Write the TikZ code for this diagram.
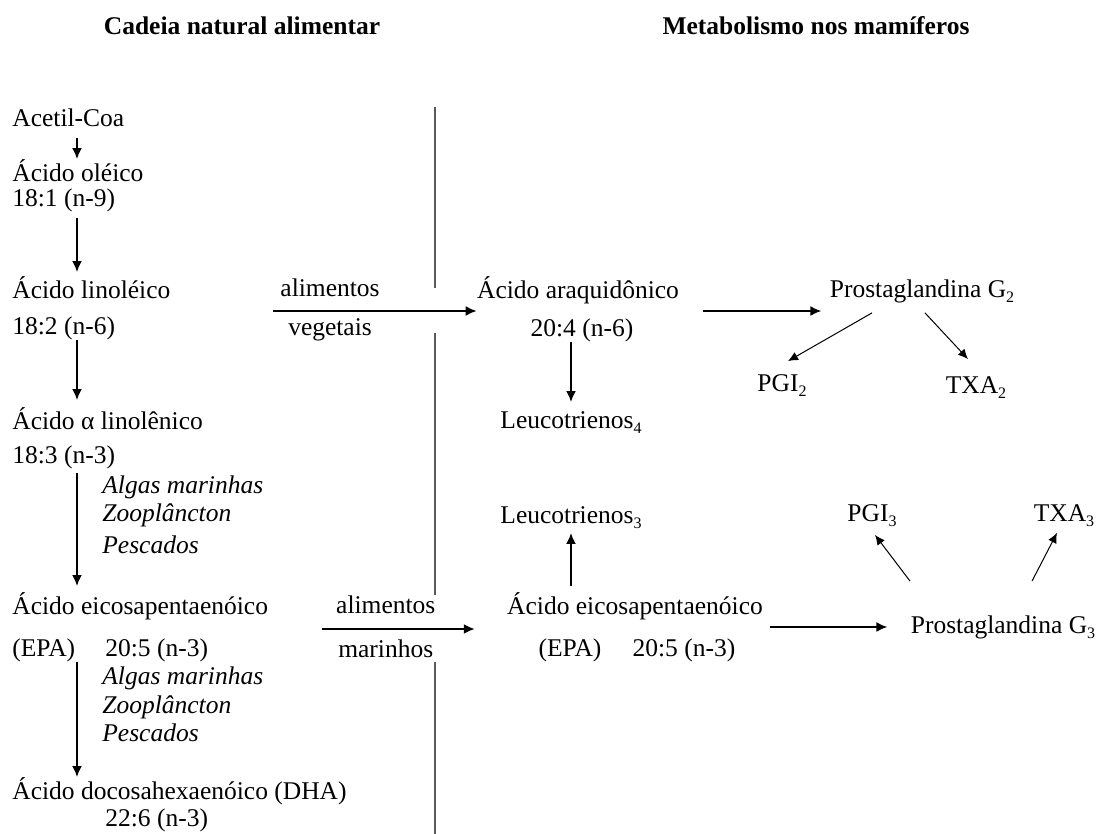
\documentclass[tikz,border=0pt]{standalone}
\usepackage{fontspec}
\setmainfont{Liberation Serif}
\usetikzlibrary{arrows.meta, positioning}
\newcommand{\idx}[1]{\raisebox{-0.45ex}{\fontsize{8}{8}\selectfont #1}}

\begin{document}
\begin{tikzpicture}[
            x=0.5pt, y=-0.5pt,
            every node/.style={inner sep=0pt, text height=9pt, text depth=2.5pt,
              font=\fontsize{12.75}{15}\selectfont},
            lbl/.style={anchor=west},
            src/.style={anchor=west, font=\fontsize{12.75}{15}\selectfont\itshape},
            title/.style={font=\fontsize{12.75}{15}\selectfont\bfseries},
            arr/.style={-{Latex[length=5.5pt,width=5pt]}, line width=1pt},
            thinarr/.style={-{Latex[length=5pt,width=4.5pt]}, line width=0.5pt},
            divider/.style={black!65, line width=0.8pt}
          ]
            \useasboundingbox (0,0) rectangle (1100,834);

            % titulos
            \node[title] (tleft) at (242,28) {Cadeia natural alimentar};
            \node[title] (tright) at (816,28) {Metabolismo nos mamíferos};

            % cadeia natural
            \coordinate (lx) at (77,0);
            \node[lbl] (acetil) at (12,120) {Acetil-Coa};
            \node[lbl] (oleico) at (12,175) {Ácido oléico};
            \node[lbl] (oleicoN) at (12,200) {18:1 (n-9)};
            \node[lbl] (linol) at (12,292) {Ácido linoléico};
            \node[lbl] (linolN) at (12,328) {18:2 (n-6)};
            \node[lbl] (alin) at (12,423) {Ácido α linolênico};
            \node[lbl] (alinN) at (12,457) {18:3 (n-3)};
            \node[src] (algas1) at (102,487) {Algas marinhas};
            \node[src] (zoo1) at (102,515) {Zooplâncton};
            \node[src] (pesc1) at (102,547) {Pescados};
            \node[lbl] (epa) at (12,608) {Ácido eicosapentaenóico};
            \node[lbl] (epaA) at (12,650) {(EPA)};
            \node[lbl] (epaN) at (105,650) {20:5 (n-3)};
            \node[src] (algas2) at (102,678) {Algas marinhas};
            \node[src] (zoo2) at (102,707) {Zooplâncton};
            \node[src] (pesc2) at (102,735) {Pescados};
            \node[lbl] (dha) at (12,793) {Ácido docosahexaenóico (DHA)};
            \node[lbl] (dhaN) at (105,820) {22:6 (n-3)};

            \draw[arr, shorten <=3pt, shorten >=2pt] (acetil.south -| lx) -- (oleico.north -| lx);
            \draw[arr, shorten <=3pt, shorten >=4pt] (oleicoN.south -| lx) -- (linol.north -| lx);
            \draw[arr, shorten >=5.5pt] (linolN.south -| lx) -- (alin.north -| lx);
            \draw[arr, shorten <=2pt, shorten >=5pt] (alinN.south -| lx) -- (epa.north -| lx);
            \draw[arr, shorten >=2pt] (epaA.south -| lx) -- (dha.north -| lx);

            % divisoria
            \draw[divider] (435,107) -- (435,288);
            \draw[divider] (435,333) -- (435,595);
            \draw[divider] (435,662) -- (435,834);

            % metabolismo
            \node (araq) at (578,292) {Ácido araquidônico};
            \node (araqN) at (582,330) {20:4 (n-6)};
            \node (pg2) at (922,291) {Prostaglandina G\idx{2}};
            \node (pgi2) at (782,385) {PGI\idx{2}};
            \node (txa2) at (976,387) {TXA\idx{2}};
            \node (leu4) at (571,422) {Leucotrienos\idx{4}};
            \node (leu3) at (571,517) {Leucotrienos\idx{3}};
            \node (pgi3) at (872,515) {PGI\idx{3}};
            \node (txa3) at (1064,515) {TXA\idx{3}};
            \node (epaR) at (635,608) {Ácido eicosapentaenóico};
            \node (epaRA) at (570,650) {(EPA)};
            \node (epaRN) at (684,650) {20:5 (n-3)};
            \node (pg3) at (1003,627) {Prostaglandina G\idx{3}};

            \coordinate (vS) at (273,311);
            \coordinate (mS) at (322,629);
            \draw[arr] (vS) -- (araq.west |- vS)
              node[pos=.28, above=4pt] (alimV) {alimentos}
              node[pos=.28, below=3pt] (veg) {vegetais};
            \draw[arr, shorten >=16pt] (mS) -- (epaR.west |- mS)
              node[pos=.345, above=4.75pt] (alimM) {alimentos}
              node[pos=.345, below=4.75pt] (mar) {marinhos};

            \draw[arr, shorten <=12pt, shorten >=4pt] (araq.east |- vS) -- (pg2.west |- vS);
            \draw[arr, shorten <=3.5pt, shorten >=11.5pt] (epaR.east |- pg3.west) -- (pg3.west);
            \draw[arr, shorten >=4pt] (leu4.north |- araqN.south) -- (leu4.north);
            \draw[arr, shorten <=5pt, shorten >=2pt] (leu3.south |- epaR.north) -- (leu3.south);

            \draw[thinarr] ([xshift=-25pt,yshift=-5pt]pg2.south) -- ([xshift=3pt,yshift=6pt]pgi2.north);
            \draw[thinarr] ([xshift=1.5pt,yshift=-5pt]pg2.south) -- ([xshift=-4pt,yshift=8pt]txa2.north);
            \draw[thinarr] ([xshift=-46.5pt,yshift=17pt]pg3.north) -- ([xshift=1.5pt,yshift=-4pt]pgi3.south);
            \draw[thinarr] ([xshift=14.5pt,yshift=17pt]pg3.north) -- ([xshift=-3.5pt,yshift=-3pt]txa3.south);
          \end{tikzpicture}
\end{document}
